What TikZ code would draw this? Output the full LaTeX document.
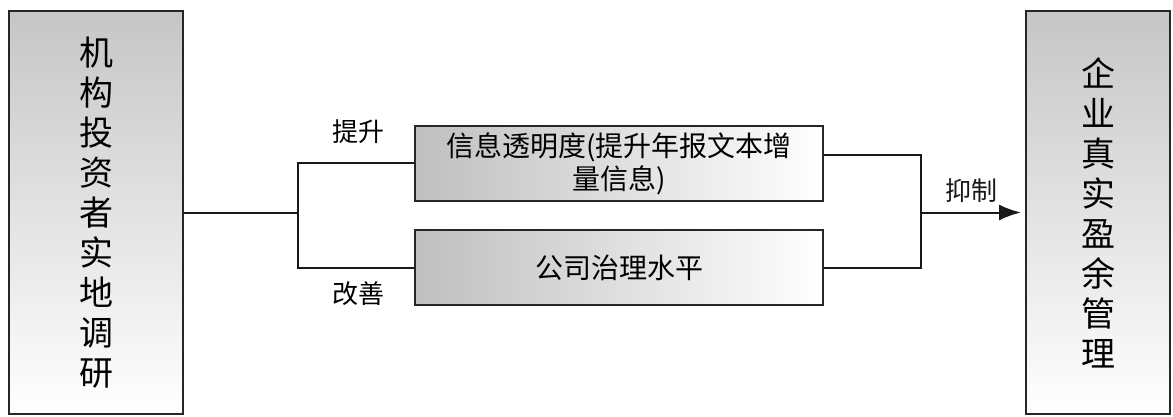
\documentclass[tikz,border=0pt]{standalone}
\usepackage{fontspec}
\usepackage{xcolor}
\usepackage{tikz}
\usetikzlibrary{arrows.meta}
\newfontfamily\cjk{Noto Sans CJK SC}

\begin{document}
\begin{tikzpicture}[x=0.5pt,y=-0.5pt,
  tallbox/.style={draw=black!85,line width=1pt,top color=gray!45,bottom color=white,
    minimum width=87pt,minimum height=201.5pt,inner sep=0pt,align=center,
    font=\cjk\fontsize{17}{20}\selectfont},
  widebox/.style={draw=black!85,line width=1pt,left color=gray!50,right color=white,
    minimum width=204pt,minimum height=37.5pt,inner sep=0pt,align=center,
    font=\cjk\fontsize{14}{16.5}\selectfont},
  lab/.style={font=\cjk\fontsize{13}{15}\selectfont},
  link/.style={line width=1pt,black!90}]
  \useasboundingbox (0,0) rectangle (1173,417);
  \node[tallbox] (invest) at (96,212.5) {机\\构\\投\\资\\者\\实\\地\\调\\研};
  \node[tallbox,minimum width=72pt] (earn) at (1098,212.5) {企\\业\\真\\实\\盈\\余\\管\\理};
  \node[widebox] (info) at (619,163.5) {信息透明度(提升年报文本增\\量信息)};
  \node[widebox] (gov) at (619,267.5) {公司治理水平};
  \coordinate (jl) at (298,212.5);
  \coordinate (jr) at (921,212.5);
  \draw[link] (invest) -- (jl);
  \draw[link] (info.west) -| (jl) |- (gov.west);
  \draw[link] ([yshift=4pt]info.east) -| (jr) |- (gov.east);
  \draw[link,-{Latex[length=11pt,width=8pt]}] (jr) -- ([xshift=-2pt]earn.west)
    node[lab,midway,above=1pt] (curb) {抑制};
  \node[lab] (raise) at (358,132) {提升};
  \node[lab] (improve) at (358,294) {改善};
\end{tikzpicture}
\end{document}
